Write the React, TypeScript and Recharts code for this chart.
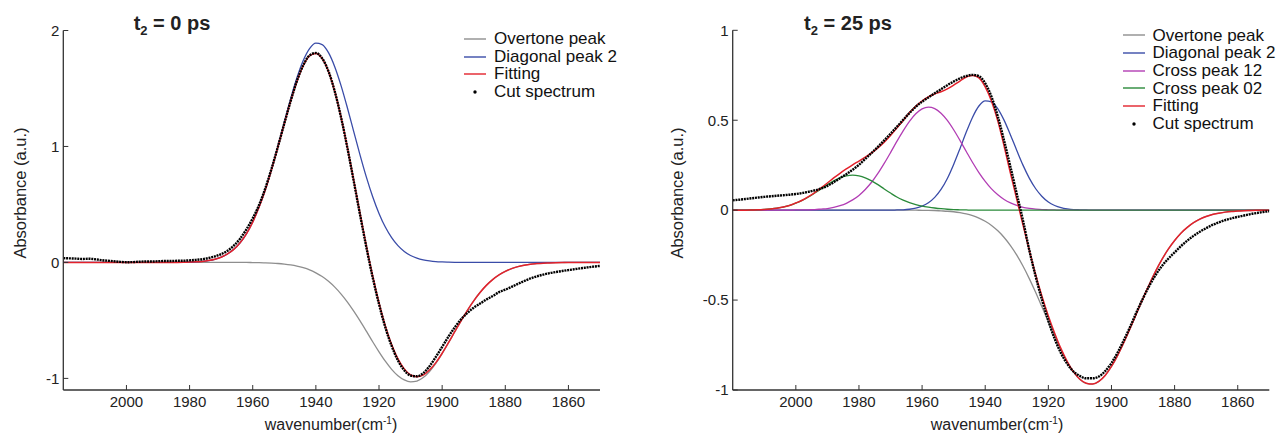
import React from "react";
import { Legend, Line, LineChart, XAxis, YAxis } from "recharts";

// wavenumber grid (cm-1), shared by both panels
const wn = [
  2020, 2018, 2016, 2014, 2012, 2010, 2008, 2006, 2004, 2002,
  2000, 1998, 1996, 1994, 1992, 1990, 1988, 1986, 1984, 1982,
  1980, 1978, 1976, 1974, 1972, 1970, 1968, 1966, 1964, 1962,
  1960, 1958, 1956, 1954, 1952, 1950, 1948, 1946, 1944, 1942,
  1940, 1938, 1936, 1934, 1932, 1930, 1928, 1926, 1924, 1922,
  1920, 1918, 1916, 1914, 1912, 1910, 1908, 1906, 1904, 1902,
  1900, 1898, 1896, 1894, 1892, 1890, 1888, 1886, 1884, 1882,
  1880, 1878, 1876, 1874, 1872, 1870, 1868, 1866, 1864, 1862,
  1860, 1858, 1856, 1854, 1852, 1850,
];

// t2 = 0 ps
const leftOvertone = [
  0, 0, 0, 0, 0, 0, 0, 0, 0, 0,
  0, 0, 0, 0, 0, 0, 0, 0, 0, 0,
  0, 0, 0, 0, 0, 0, 0, 0, 0, 0,
  -0.001, -0.002, -0.004, -0.006, -0.009, -0.014, -0.021, -0.031, -0.045, -0.064,
  -0.09, -0.122, -0.163, -0.213, -0.273, -0.342, -0.42, -0.504, -0.593, -0.684,
  -0.771, -0.852, -0.922, -0.977, -1.013, -1.03, -1.023, -0.993, -0.941, -0.871,
  -0.787, -0.694, -0.598, -0.503, -0.413, -0.331, -0.259, -0.198, -0.148, -0.108,
  -0.077, -0.053, -0.036, -0.024, -0.015, -0.01, -0.006, -0.004, -0.002, -0.001,
  0, 0, 0, 0, 0, 0,
];
const leftDiagonal = [
  0, 0, 0, 0, 0, 0, 0, 0, 0, 0,
  0, 0, 0, 0, 0, 0, 0, 0, 0, 0.001,
  0.003, 0.005, 0.009, 0.016, 0.027, 0.045, 0.073, 0.113, 0.17, 0.247,
  0.349, 0.477, 0.631, 0.81, 1.006, 1.21, 1.41, 1.592, 1.741, 1.844,
  1.891, 1.879, 1.809, 1.686, 1.523, 1.332, 1.128, 0.926, 0.736, 0.567,
  0.423, 0.305, 0.214, 0.145, 0.095, 0.06, 0.037, 0.022, 0.013, 0.007,
  0.004, 0.002, 0.001, 0, 0, 0, 0, 0, 0, 0,
  0, 0, 0, 0, 0, 0, 0, 0, 0, 0,
  0, 0, 0, 0, 0, 0,
];
const leftFitting = [
  0, 0, 0, 0, 0, 0, 0, 0, 0, 0,
  0, 0, 0, 0, 0, 0, 0, 0, 0, 0.001,
  0.003, 0.005, 0.009, 0.016, 0.027, 0.045, 0.073, 0.113, 0.17, 0.247,
  0.348, 0.475, 0.627, 0.804, 0.997, 1.196, 1.389, 1.561, 1.696, 1.78,
  1.801, 1.757, 1.646, 1.473, 1.25, 0.99, 0.708, 0.422, 0.143, -0.117,
  -0.348, -0.547, -0.708, -0.832, -0.918, -0.97, -0.986, -0.971, -0.928, -0.864,
  -0.783, -0.692, -0.597, -0.503, -0.413, -0.331, -0.259, -0.198, -0.148, -0.108,
  -0.077, -0.053, -0.036, -0.024, -0.015, -0.01, -0.006, -0.004, -0.002, -0.001,
  0, 0, 0, 0, 0, 0,
];
const leftCut = [
  0.037, 0.035, 0.033, 0.03, 0.032, 0.028, 0.02, 0.015, 0.01, 0.005,
  0.002, 0.003, 0.006, 0.008, 0.008, 0.01, 0.012, 0.012, 0.014, 0.015,
  0.018, 0.022, 0.028, 0.038, 0.052, 0.072, 0.1, 0.145, 0.205, 0.285,
  0.38, 0.495, 0.64, 0.812, 1.0, 1.198, 1.39, 1.565, 1.7, 1.785,
  1.806, 1.76, 1.648, 1.473, 1.248, 0.985, 0.7, 0.41, 0.13, -0.13,
  -0.36, -0.56, -0.72, -0.845, -0.93, -0.975, -0.982, -0.955, -0.895, -0.815,
  -0.728, -0.64, -0.56, -0.49, -0.435, -0.39, -0.355, -0.32, -0.29, -0.256,
  -0.235, -0.21, -0.185, -0.16, -0.138, -0.12, -0.105, -0.092, -0.083, -0.074,
  -0.066, -0.058, -0.05, -0.043, -0.036, -0.03,
];

// t2 = 25 ps
const rightOvertone = [
  0, 0, 0, 0, 0, 0, 0, 0, 0, 0,
  0, 0, 0, 0, 0, 0, 0, 0, 0, 0,
  0, 0, 0, 0, 0, 0, 0, 0, 0, 0,
  -0.001, -0.001, -0.002, -0.004, -0.006, -0.009, -0.014, -0.021, -0.031, -0.044,
  -0.062, -0.085, -0.115, -0.152, -0.197, -0.25, -0.312, -0.382, -0.458, -0.539,
  -0.621, -0.702, -0.778, -0.846, -0.901, -0.941, -0.963, -0.967, -0.952, -0.919,
  -0.869, -0.806, -0.733, -0.654, -0.572, -0.49, -0.412, -0.339, -0.274, -0.217,
  -0.169, -0.128, -0.096, -0.07, -0.05, -0.035, -0.024, -0.017, -0.011, -0.007,
  -0.005, -0.003, -0.002, -0.001, -0.001, 0,
];
const rightDiagonal = [
  0, 0, 0, 0, 0, 0, 0, 0, 0, 0,
  0, 0, 0, 0, 0, 0, 0, 0, 0, 0,
  0, 0, 0, 0, 0, 0, 0.001, 0.002, 0.005, 0.011,
  0.022, 0.041, 0.071, 0.115, 0.176, 0.254, 0.342, 0.434, 0.517, 0.579,
  0.608, 0.602, 0.563, 0.499, 0.418, 0.332, 0.249, 0.177, 0.119, 0.076,
  0.045, 0.026, 0.014, 0.007, 0.003, 0.002, 0.001, 0, 0, 0,
  0, 0, 0, 0, 0, 0, 0, 0, 0, 0,
  0, 0, 0, 0, 0, 0, 0, 0, 0, 0,
  0, 0, 0, 0, 0, 0,
];
const rightCross12 = [
  0, 0, 0, 0, 0, 0, 0, 0, 0, 0,
  0.001, 0.001, 0.002, 0.003, 0.006, 0.009, 0.016, 0.025, 0.038, 0.057,
  0.082, 0.115, 0.155, 0.204, 0.26, 0.32, 0.382, 0.441, 0.494, 0.536,
  0.563, 0.573, 0.565, 0.539, 0.499, 0.447, 0.388, 0.326, 0.265, 0.209,
  0.16, 0.118, 0.085, 0.059, 0.04, 0.026, 0.016, 0.01, 0.006, 0.003,
  0.002, 0.001, 0, 0, 0, 0, 0, 0, 0, 0,
  0, 0, 0, 0, 0, 0, 0, 0, 0, 0,
  0, 0, 0, 0, 0, 0, 0, 0, 0, 0,
  0, 0, 0, 0, 0, 0,
];
const rightCross02 = [
  0, 0, 0, 0.001, 0.002, 0.004, 0.007, 0.011, 0.017, 0.026,
  0.039, 0.054, 0.073, 0.095, 0.118, 0.142, 0.163, 0.18, 0.191, 0.195,
  0.191, 0.18, 0.163, 0.142, 0.118, 0.095, 0.073, 0.056, 0.042, 0.031,
  0.023, 0.017, 0.012, 0.008, 0.005, 0.003, 0.002, 0.001, 0, 0,
  0, 0, 0, 0, 0, 0, 0, 0, 0, 0,
  0, 0, 0, 0, 0, 0, 0, 0, 0, 0,
  0, 0, 0, 0, 0, 0, 0, 0, 0, 0,
  0, 0, 0, 0, 0, 0, 0, 0, 0, 0,
  0, 0, 0, 0, 0, 0,
];
const rightFitting = [
  0, 0, 0, 0.001, 0.002, 0.004, 0.007, 0.011, 0.017, 0.026,
  0.04, 0.055, 0.075, 0.098, 0.124, 0.151, 0.179, 0.205, 0.229, 0.252,
  0.273, 0.295, 0.318, 0.346, 0.378, 0.415, 0.456, 0.499, 0.541, 0.578,
  0.607, 0.63, 0.646, 0.658, 0.674, 0.695, 0.718, 0.74, 0.748, 0.735,
  0.685, 0.605, 0.495, 0.355, 0.205, 0.06, -0.085, -0.225, -0.36, -0.48,
  -0.588, -0.684, -0.77, -0.842, -0.899, -0.94, -0.962, -0.967, -0.952, -0.919,
  -0.869, -0.806, -0.733, -0.654, -0.572, -0.49, -0.412, -0.339, -0.274, -0.217,
  -0.169, -0.128, -0.096, -0.07, -0.05, -0.035, -0.024, -0.017, -0.011, -0.007,
  -0.005, -0.003, -0.002, -0.001, -0.001, 0,
];
const rightCut = [
  0.055, 0.058, 0.062, 0.066, 0.07, 0.074, 0.077, 0.08, 0.083, 0.086,
  0.09, 0.095, 0.102, 0.11, 0.12, 0.135, 0.155, 0.178, 0.2, 0.225,
  0.252, 0.285, 0.318, 0.352, 0.388, 0.425, 0.463, 0.502, 0.54, 0.575,
  0.603, 0.627, 0.65, 0.672, 0.695, 0.715, 0.733, 0.746, 0.752, 0.745,
  0.705, 0.63, 0.52, 0.385, 0.24, 0.09, -0.06, -0.225, -0.37, -0.5,
  -0.615, -0.715, -0.795, -0.855, -0.898, -0.922, -0.935, -0.935, -0.925, -0.895,
  -0.85, -0.79, -0.72, -0.645, -0.565, -0.49, -0.42, -0.36, -0.31, -0.27,
  -0.235, -0.2, -0.17, -0.143, -0.12, -0.1, -0.082, -0.068, -0.055, -0.046,
  -0.037, -0.03, -0.022, -0.016, -0.01, -0.006,
];

const xTicks = [2000, 1980, 1960, 1940, 1920, 1900, 1880, 1860];
const leftYTicks = [-1, 0, 1, 2];
const rightYTicks = [-1, -0.5, 0, 0.5, 1];

const GRAY = "#8e8e8e";
const BLUE = "#3a4ca8";
const MAGENTA = "#b23db4";
const GREEN = "#2a8a3a";
const RED = "#e3212b";
const AXIS = "#333";
const FONT = '"Liberation Sans", Arial, Helvetica, sans-serif';

const leftRows = wn.map((w, i) => ({
  w,
  ot: leftOvertone[i],
  dg: leftDiagonal[i],
  fit: leftFitting[i],
  cut: leftCut[i],
}));

const rightRows = wn.map((w, i) => ({
  w,
  ot: rightOvertone[i],
  dg: rightDiagonal[i],
  c12: rightCross12[i],
  c02: rightCross02[i],
  fit: rightFitting[i],
  cut: rightCut[i],
}));

const leftSeries = [
  { key: "ot", name: "Overtone peak", color: GRAY },
  { key: "dg", name: "Diagonal peak 2", color: BLUE },
  { key: "fit", name: "Fitting", color: RED },
  { key: "cut", name: "Cut spectrum", color: "#000", dot: true },
];

const rightSeries = [
  { key: "ot", name: "Overtone peak", color: GRAY },
  { key: "dg", name: "Diagonal peak 2", color: BLUE },
  { key: "c12", name: "Cross peak 12", color: MAGENTA },
  { key: "c02", name: "Cross peak 02", color: GREEN },
  { key: "fit", name: "Fitting", color: RED },
  { key: "cut", name: "Cut spectrum", color: "#000", dot: true },
];

// ticks point inward, labels sit outside
const XTick = (props: any) => {
  const { x, y, payload } = props;
  return (
    <g>
      <line x1={x} x2={x} y1={y} y2={y - 5} stroke={AXIS} strokeWidth={1} />
      <text x={x} y={y + 6} dy="0.71em" textAnchor="middle" fill="#222" fontSize={15} fontFamily={FONT}>
        {payload.value}
      </text>
    </g>
  );
};

const YTick = (props: any) => {
  const { x, y, payload } = props;
  return (
    <g>
      <line x1={x} x2={x + 5} y1={y} y2={y} stroke={AXIS} strokeWidth={1} />
      <text x={x - 4} y={y} dy="0.355em" textAnchor="end" fill="#222" fontSize={15} fontFamily={FONT}>
        {payload.value}
      </text>
    </g>
  );
};

function LegendBox({ series }: { series: { name: string; color: string; dot?: boolean }[] }) {
  return (
    <div style={{ fontFamily: FONT, fontSize: 17, color: "#111", lineHeight: "17.7px" }}>
      {series.map((s) => (
        <div key={s.name} style={{ display: "flex", alignItems: "center", height: 17.7, whiteSpace: "nowrap" }}>
          <svg width={26} height={10} style={{ marginRight: 4 }}>
            {s.dot ? (
              <circle cx={11} cy={5} r={1.7} fill={s.color} />
            ) : (
              <line x1={0} x2={22} y1={5} y2={5} stroke={s.color} strokeWidth={1.4} />
            )}
          </svg>
          <span>{s.name}</span>
        </div>
      ))}
    </div>
  );
}

function Panel({
  rows,
  series,
  yDomain,
  yTicks,
  width,
  margin,
  legendPos,
}: {
  rows: any[];
  series: { key: string; name: string; color: string; dot?: boolean }[];
  yDomain: [number, number];
  yTicks: number[];
  width: number;
  margin: { top: number; right: number; bottom: number; left: number };
  legendPos: { top: number; left: number };
}) {
  return (
    <LineChart width={width} height={434} data={rows} margin={margin}>
      <XAxis
        dataKey="w"
        type="number"
        domain={[1850, 2020]}
        reversed
        allowDataOverflow
        ticks={xTicks}
        interval={0}
        tickSize={0}
        tickMargin={0}
        tickLine={false}
        tick={<XTick />}
        height={44}
        axisLine={{ stroke: AXIS, strokeWidth: 1.3 }}
      />
      <YAxis
        type="number"
        domain={yDomain}
        allowDataOverflow
        ticks={yTicks}
        interval={0}
        tickSize={0}
        tickMargin={0}
        tickLine={false}
        tick={<YTick />}
        width={40}
        axisLine={{ stroke: AXIS, strokeWidth: 1.3 }}
      />
      <Legend
        layout="vertical"
        align="center"
        verticalAlign="middle"
        wrapperStyle={{ top: legendPos.top, left: legendPos.left, width: "auto", height: "auto" }}
        content={() => <LegendBox series={series} />}
      />
      {series.map((s) =>
        s.dot ? (
          <Line
            key={s.key}
            type="monotone"
            dataKey={s.key}
            stroke={s.color}
            strokeWidth={2.4}
            strokeDasharray="2 0.8"
            dot={false}
            activeDot={false}
            isAnimationActive={false}
          />
        ) : (
          <Line
            key={s.key}
            type="monotone"
            dataKey={s.key}
            stroke={s.color}
            strokeWidth={s.key === "fit" ? 1.5 : 1.3}
            dot={false}
            activeDot={false}
            isAnimationActive={false}
          />
        )
      )}
    </LineChart>
  );
}

const titleStyle: React.CSSProperties = {
  position: "absolute",
  top: 12,
  transform: "translateX(-50%)",
  fontFamily: FONT,
  fontWeight: "bold",
  fontSize: 20,
  color: "#222",
  whiteSpace: "nowrap",
};

const xLabelStyle: React.CSSProperties = {
  position: "absolute",
  top: 415,
  transform: "translateX(-50%)",
  fontFamily: FONT,
  fontSize: 16,
  color: "#222",
  whiteSpace: "nowrap",
};

const yLabelStyle: React.CSSProperties = {
  position: "absolute",
  top: 193,
  transform: "translate(-50%, -50%) rotate(-90deg)",
  fontFamily: FONT,
  fontSize: 16.5,
  color: "#222",
  whiteSpace: "nowrap",
};

export default function App() {
  return (
    <div style={{ position: "absolute", left: 0, top: 0, width: 1283, height: 434, background: "#fff" }}>
      <div style={{ position: "absolute", left: 0, top: 0 }}>
        <Panel
          rows={leftRows}
          series={leftSeries}
          yDomain={[-1.1, 2]}
          yTicks={leftYTicks}
          width={620}
          margin={{ top: 30.5, right: 20, bottom: 0, left: 23.3 }}
          legendPos={{ top: 30, left: 464 }}
        />
      </div>
      <div style={{ position: "absolute", left: 640, top: 0 }}>
        <Panel
          rows={rightRows}
          series={rightSeries}
          yDomain={[-1, 1]}
          yTicks={rightYTicks}
          width={643}
          margin={{ top: 30.3, right: 13.7, bottom: 0, left: 52.7 }}
          legendPos={{ top: 26.5, left: 482.5 }}
        />
      </div>

      <div style={{ ...titleStyle, left: 172 }}>
        t<sub style={{ fontSize: 13 }}>2</sub> = 0 ps
      </div>
      <div style={{ ...titleStyle, left: 848 }}>
        t<sub style={{ fontSize: 13 }}>2</sub> = 25 ps
      </div>

      <div style={{ ...xLabelStyle, left: 331 }}>
        wavenumber(cm<sup style={{ fontSize: 10 }}>-1</sup>)
      </div>
      <div style={{ ...xLabelStyle, left: 997 }}>
        wavenumber(cm<sup style={{ fontSize: 10 }}>-1</sup>)
      </div>

      <div style={{ ...yLabelStyle, left: 19.5 }}>Absorbance (a.u.)</div>
      <div style={{ ...yLabelStyle, left: 677 }}>Absorbance (a.u.)</div>
    </div>
  );
}
